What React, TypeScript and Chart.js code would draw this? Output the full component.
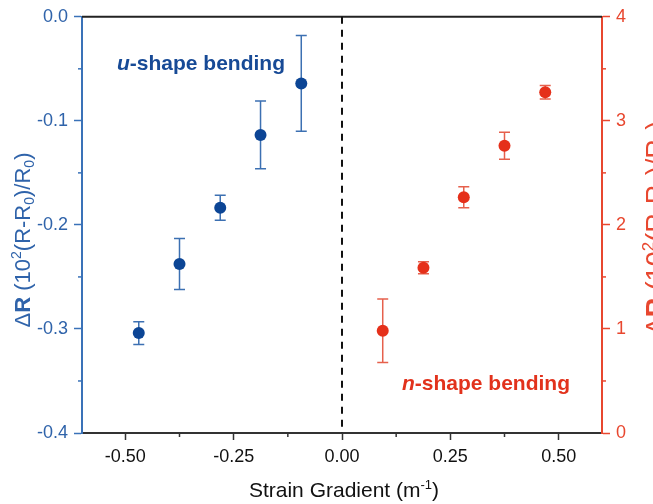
import React, { useEffect, useRef } from 'react';
import { Chart, registerables } from 'chart.js';
Chart.register(...registerables);

// ---- data ----
const uX = [-0.469, -0.375, -0.281, -0.188, -0.094];
const uY = [-0.304, -0.2375, -0.1835, -0.1135, -0.064];
const uErr = [0.011, 0.0245, 0.012, 0.0325, 0.046];
const nX = [0.094, 0.188, 0.281, 0.375, 0.469];
const nY = [0.983, 1.588, 2.266, 2.76, 3.275];
const nErr = [0.306, 0.058, 0.1, 0.13, 0.065];
const xTicks = [-0.5, -0.25, 0, 0.25, 0.5];
const xMinor = [-0.375, -0.125, 0.125, 0.375];
const yLeftTicks = [-0.4, -0.3, -0.2, -0.1, 0];
const yLeftMinor = [-0.35, -0.25, -0.15, -0.05];
const yRightTicks = [0, 1, 2, 3, 4];
const yRightMinor = [0.5, 1.5, 2.5, 3.5];

const FAM = '"Liberation Sans", Arial, Helvetica, sans-serif';
const BLUE_PT = '#0c4595';
const BLUE_AX = '#3a72b8';
const BLUE_TXT = '#2f63aa';
const BLUE_ERR = '#3c70b2';
const RED_PT = '#e5301a';
const RED_AX = '#e8472f';
const RED_ERR = '#e6604c';

type Part = { t: string; bold?: boolean; italic?: boolean; sup?: boolean; sub?: boolean };

function drawRich(ctx: CanvasRenderingContext2D, parts: Part[], size: number, color: string,
  x: number, y: number, rot: number, align: 'center' | 'left') {
  const fontOf = (p: Part) => `${p.italic ? 'italic ' : ''}${p.bold ? 'bold ' : ''}${(p.sup || p.sub) ? Math.round(size * 0.62) : size}px ${FAM}`;
  let total = 0;
  const widths = parts.map(p => { ctx.font = fontOf(p); const w = ctx.measureText(p.t).width; total += w; return w; });
  ctx.save();
  ctx.translate(x, y);
  ctx.rotate(rot);
  ctx.fillStyle = color;
  ctx.textBaseline = 'alphabetic';
  ctx.textAlign = 'left';
  let cx = align === 'center' ? -total / 2 : 0;
  parts.forEach((p, i) => {
    ctx.font = fontOf(p);
    const dy = p.sup ? -size * 0.4 : p.sub ? size * 0.2 : 0;
    ctx.fillText(p.t, cx, dy);
    cx += widths[i];
  });
  ctx.restore();
}

function drawErr(ctx: CanvasRenderingContext2D, xs: any, ys: any, X: number[], Y: number[], E: number[], color: string) {
  ctx.strokeStyle = color;
  ctx.lineWidth = 1.5;
  X.forEach((xv, i) => {
    const px = xs.getPixelForValue(xv);
    const pt = ys.getPixelForValue(Y[i] + E[i]);
    const pb = ys.getPixelForValue(Y[i] - E[i]);
    ctx.beginPath();
    ctx.moveTo(px, pt); ctx.lineTo(px, pb);
    ctx.moveTo(px - 5.5, pt); ctx.lineTo(px + 5.5, pt);
    ctx.moveTo(px - 5.5, pb); ctx.lineTo(px + 5.5, pb);
    ctx.stroke();
  });
}

const titleParts: Part[] = [
  { t: 'Δ' }, { t: 'R', bold: true }, { t: ' (10' }, { t: '2', sup: true }, { t: '(R-R' }, { t: '0', sub: true },
  { t: ')/R' }, { t: '0', sub: true }, { t: ')' },
];

const overlay = {
  id: 'overlay',
  beforeDatasetsDraw(chart: any) {
    const { ctx, chartArea: { left, right, top, bottom }, scales: { x, y, y1 } } = chart;
    ctx.save();
    // top frame
    ctx.strokeStyle = '#222';
    ctx.lineWidth = 2;
    ctx.beginPath(); ctx.moveTo(left, top); ctx.lineTo(right, top); ctx.stroke();
    // dashed zero line
    const x0 = x.getPixelForValue(0);
    ctx.setLineDash([7, 6]);
    ctx.strokeStyle = '#111';
    ctx.lineWidth = 2;
    ctx.beginPath(); ctx.moveTo(x0, top); ctx.lineTo(x0, bottom); ctx.stroke();
    ctx.setLineDash([]);
    // minor ticks
    ctx.lineWidth = 1.5;
    ctx.strokeStyle = '#333';
    xMinor.forEach(v => { const p = x.getPixelForValue(v); ctx.beginPath(); ctx.moveTo(p, bottom); ctx.lineTo(p, bottom + 4); ctx.stroke(); });
    ctx.strokeStyle = BLUE_AX;
    yLeftMinor.forEach(v => { const p = y.getPixelForValue(v); ctx.beginPath(); ctx.moveTo(left, p); ctx.lineTo(left - 4, p); ctx.stroke(); });
    ctx.strokeStyle = RED_AX;
    yRightMinor.forEach(v => { const p = y1.getPixelForValue(v); ctx.beginPath(); ctx.moveTo(right, p); ctx.lineTo(right + 4, p); ctx.stroke(); });
    // error bars
    drawErr(ctx, x, y, uX, uY, uErr, BLUE_ERR);
    drawErr(ctx, x, y1, nX, nY, nErr, RED_ERR);
    ctx.restore();
  },
  afterDraw(chart: any) {
    const { ctx } = chart;
    drawRich(ctx, [{ t: 'Strain Gradient (m' }, { t: '-1', sup: true }, { t: ')' }], 21, '#111', 344, 497, 0, 'center');
    drawRich(ctx, titleParts, 22, BLUE_TXT, 30, 240, -Math.PI / 2, 'center');
    drawRich(ctx, titleParts, 27, RED_AX, 665, 228, -Math.PI / 2, 'center');
    drawRich(ctx, [{ t: 'u', bold: true, italic: true }, { t: '-shape bending', bold: true }], 21, '#174a96', 117, 70, 0, 'left');
    drawRich(ctx, [{ t: 'n', bold: true, italic: true }, { t: '-shape bending', bold: true }], 21, '#e2321c', 402, 390, 0, 'left');
  },
};

export default function App() {
  const ref = useRef<HTMLCanvasElement>(null);
  useEffect(() => {
    if (!ref.current) return;
    const tickFont = { family: FAM, size: 18 };
    const chart = new Chart(ref.current, {
      type: 'scatter',
      data: {
        datasets: [
          { data: uX.map((v, i) => ({ x: v, y: uY[i] })), yAxisID: 'y', backgroundColor: BLUE_PT, borderColor: BLUE_PT, pointRadius: 6, borderWidth: 0 },
          { data: nX.map((v, i) => ({ x: v, y: nY[i] })), yAxisID: 'y1', backgroundColor: RED_PT, borderColor: RED_PT, pointRadius: 6, borderWidth: 0 },
        ],
      },
      options: {
        responsive: false,
        animation: false,
        events: [],
        layout: { padding: { top: 15, left: 0, right: 0, bottom: 0 } },
        plugins: { legend: { display: false }, tooltip: { enabled: false } },
        scales: {
          x: {
            type: 'linear', min: -0.6, max: 0.6,
            afterBuildTicks: (s: any) => { s.ticks = xTicks.map(v => ({ value: v })); },
            afterFit: (s: any) => { s.height = 71; },
            ticks: { font: tickFont, color: '#111', padding: 6, callback: (v: any) => Number(v).toFixed(2), maxRotation: 0, autoSkip: false },
            grid: { drawOnChartArea: false, drawTicks: true, tickLength: 7, tickColor: '#333', tickWidth: 1.5 },
            border: { display: true, color: '#333', width: 2 },
          },
          y: {
            type: 'linear', position: 'left', min: -0.4, max: 0,
            afterBuildTicks: (s: any) => { s.ticks = yLeftTicks.map(v => ({ value: v })); },
            afterFit: (s: any) => { s.width = 82; },
            ticks: { font: tickFont, color: BLUE_TXT, padding: 6, callback: (v: any) => Number(v).toFixed(1) },
            grid: { drawOnChartArea: false, drawTicks: true, tickLength: 8, tickColor: BLUE_AX, tickWidth: 1.5 },
            border: { display: true, color: BLUE_AX, width: 2 },
          },
          y1: {
            type: 'linear', position: 'right', min: 0, max: 4,
            afterBuildTicks: (s: any) => { s.ticks = yRightTicks.map(v => ({ value: v })); },
            afterFit: (s: any) => { s.width = 51; },
            ticks: { font: tickFont, color: RED_AX, padding: 6, callback: (v: any) => String(v) },
            grid: { drawOnChartArea: false, drawTicks: true, tickLength: 8, tickColor: RED_AX, tickWidth: 1.5 },
            border: { display: true, color: RED_AX, width: 2 },
          },
        },
      },
      plugins: [overlay],
    } as any);
    return () => chart.destroy();
  }, []);
  return (
    <div style={{ position: 'fixed', left: 0, top: 0, width: 653, height: 504, background: '#fff' }}>
      <canvas ref={ref} width={653} height={504} style={{ display: 'block' }} />
    </div>
  );
}
